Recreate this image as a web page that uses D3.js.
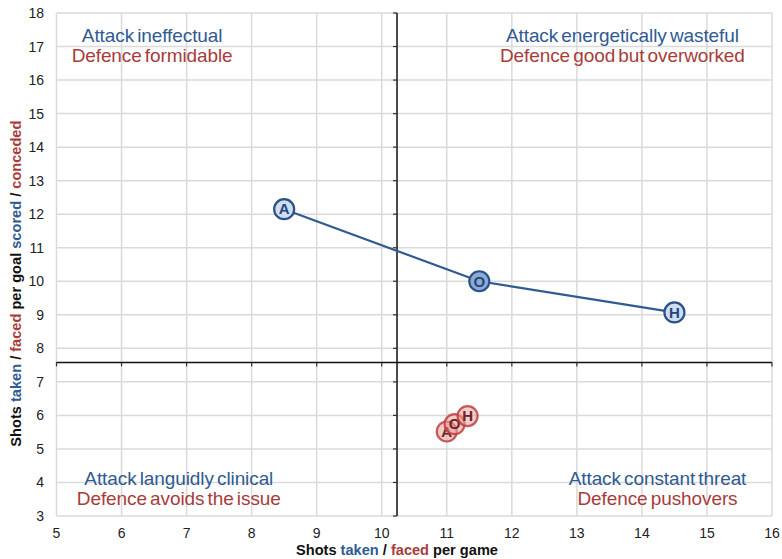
<!DOCTYPE html>
<html><head><meta charset="utf-8">
<script src="https://cdn.jsdelivr.net/npm/d3@7"></script>
<style>body{margin:0;background:#fff}svg{display:block;font-family:"Liberation Sans",Arial,sans-serif}</style>
</head><body>
<svg id="c" width="782" height="559"></svg>
<script>
const xTicks = [5,6,7,8,9,10,11,12,13,14,15,16];
const yTicks = [3,4,5,6,7,8,9,10,11,12,13,14,15,16,17,18];
const labels = ["A","O","H"];
const attackX = [8.5, 11.5, 14.5];
const attackY = [12.15, 10.0, 9.07];
const defenceX = [11.0, 11.12, 11.32];
const defenceY = [5.52, 5.74, 5.98];
const crossX = 10.235, crossY = 7.58;
const quadrants = [
  {x:6.47, y:17.135, a:"Attack ineffectual", d:"Defence formidable"},
  {x:13.70, y:17.135, a:"Attack energetically wasteful", d:"Defence good but overworked"},
  {x:6.88, y:3.923, a:"Attack languidly clinical", d:"Defence avoids the issue"},
  {x:14.24, y:3.923, a:"Attack constant threat", d:"Defence pushovers"}
];
const BLUE="#2F5B92", RED="#A83C3A";

const svg=d3.select("#c");
const x=d3.scaleLinear().domain([5,16]).range([56.5,772]);
const y=d3.scaleLinear().domain([3,18]).range([516,13]);

const g=svg.append("g");
g.selectAll(".gx").data(xTicks).join("line").attr("x1",d=>x(d)).attr("x2",d=>x(d)).attr("y1",y(3)).attr("y2",y(18)).attr("stroke","#DADADA").attr("stroke-width",1.5);
g.selectAll(".gy").data(yTicks).join("line").attr("x1",x(5)).attr("x2",x(16)).attr("y1",d=>y(d)).attr("y2",d=>y(d)).attr("stroke","#DADADA").attr("stroke-width",1.5);

// tick labels
svg.selectAll(".tx").data(xTicks).join("text").attr("x",d=>x(d)).attr("y",538).attr("text-anchor","middle").attr("font-size",14).attr("fill","#222").text(d=>d);
svg.selectAll(".ty").data(yTicks).join("text").attr("x",44).attr("y",d=>y(d)+5).attr("text-anchor","end").attr("font-size",14).attr("fill","#222").text(d=>d);

// crossing axes
svg.append("line").attr("x1",x(5)).attr("x2",x(16)).attr("y1",y(crossY)).attr("y2",y(crossY)).attr("stroke","#111").attr("stroke-width",1.5);
svg.append("line").attr("x1",x(crossX)).attr("x2",x(crossX)).attr("y1",y(3)).attr("y2",y(18)).attr("stroke","#111").attr("stroke-width",1.5);
svg.selectAll(".tkx").data(xTicks).join("line").attr("x1",d=>x(d)).attr("x2",d=>x(d)).attr("y1",y(crossY)).attr("y2",y(crossY)+4).attr("stroke","#333").attr("stroke-width",1.2);
svg.selectAll(".tky").data(yTicks).join("line").attr("x1",x(crossX)-4).attr("x2",x(crossX)).attr("y1",d=>y(d)).attr("y2",d=>y(d)).attr("stroke","#333").attr("stroke-width",1.2);

// quadrant texts
const q=svg.selectAll(".q").data(quadrants).join("g");
q.append("text").attr("x",d=>x(d.x)).attr("y",d=>y(d.y)).attr("text-anchor","middle").attr("font-size",19).attr("word-spacing",-2).attr("letter-spacing",-0.1).attr("fill",BLUE).text(d=>d.a);
q.append("text").attr("x",d=>x(d.x)).attr("y",d=>y(d.y)+20).attr("text-anchor","middle").attr("font-size",19).attr("word-spacing",-2).attr("letter-spacing",-0.1).attr("fill",RED).text(d=>d.d);

// attack line
const line=d3.line().x(d=>x(d[0])).y(d=>y(d[1]));
svg.append("path").datum(attackX.map((v,i)=>[v,attackY[i]])).attr("d",line).attr("fill","none").attr("stroke",BLUE).attr("stroke-width",2.2);

// attack markers
const am=svg.selectAll(".am").data(labels).join("g").attr("transform",(d,i)=>`translate(${x(attackX[i])},${y(attackY[i])})`);
am.append("circle").attr("r",10).attr("fill",d=>d==="O"?"#8EABD6":"#CFDDF0").attr("stroke","#2A5188").attr("stroke-width",2.2);
am.append("text").attr("text-anchor","middle").attr("dy",5.3).attr("font-size",15).attr("font-weight","bold").attr("fill","#23477A").text(d=>d);

// defence markers
const dm=svg.selectAll(".dm").data(labels).join("g").attr("transform",(d,i)=>`translate(${x(defenceX[i])},${y(defenceY[i])})`);
dm.append("circle").attr("r",10).attr("fill","rgba(232,160,158,0.55)").attr("stroke","rgba(192,64,62,0.85)").attr("stroke-width",2.2);
dm.append("text").attr("text-anchor","middle").attr("dy",5.3).attr("font-size",15).attr("font-weight","bold").attr("fill","#6B2422").text(d=>d);

// axis titles
const xt=svg.append("text").attr("x",x(crossX)).attr("y",555).attr("text-anchor","middle").attr("font-size",14.6).attr("font-weight","bold").attr("fill","#111");
xt.append("tspan").text("Shots ");
xt.append("tspan").attr("fill",BLUE).text("taken");
xt.append("tspan").text(" / ");
xt.append("tspan").attr("fill",RED).text("faced");
xt.append("tspan").text(" per game");

const yt=svg.append("text").attr("transform",`translate(21,${y(9.93)}) rotate(-90)`).attr("text-anchor","middle").attr("font-size",14.6).attr("font-weight","bold").attr("fill","#111");
yt.append("tspan").text("Shots ");
yt.append("tspan").attr("fill",BLUE).text("taken");
yt.append("tspan").text(" / ");
yt.append("tspan").attr("fill",RED).text("faced");
yt.append("tspan").text(" per goal ");
yt.append("tspan").attr("fill",BLUE).text("scored");
yt.append("tspan").text(" / ");
yt.append("tspan").attr("fill",RED).text("conceded");
</script>
</body></html>
